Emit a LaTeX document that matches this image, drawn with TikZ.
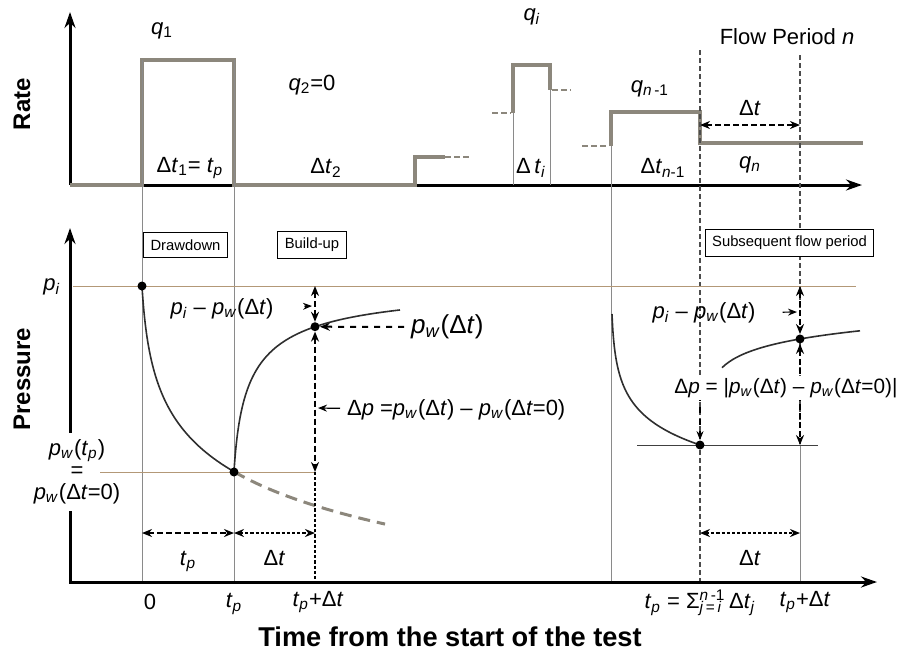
\documentclass[tikz,border=0pt]{standalone}
\usepackage{fontspec}
\setmainfont{Liberation Sans}
\usetikzlibrary{arrows.meta,positioning,calc}
\definecolor{colrate}{HTML}{8C877C}
\definecolor{colguide}{HTML}{8A8A8A}
\definecolor{coltan}{HTML}{B39877}
\definecolor{colcurve}{HTML}{2E2E2E}
\newcommand{\qq}[1]{\textit{q}\textsubscript{#1}}
\newcommand{\pw}{\textit{p}\textsubscript{\textit{w}}}
\newcommand{\pii}{\textit{p}\textsubscript{\textit{i}}}
\newcommand{\tp}{\textit{t}\textsubscript{\textit{p}}}
\newcommand{\dt}{Δ\textit{t}}

\begin{document}
\begin{tikzpicture}[
  x=0.5pt, y=-0.5pt,
  font=\fontsize{11}{13}\selectfont,
  taxis/.style={line width=1.5pt,-{Stealth[length=8pt,width=5.5pt]}},
  ratebar/.style={line width=2pt,colrate},
  ratetail/.style={line width=1.2pt,colrate,dash pattern=on 3pt off 1.5pt},
  guide/.style={line width=0.5pt,colguide},
  cut/.style={line width=0.6pt,black!70,dash pattern=on 2.5pt off 1.5pt},
  flat/.style={line width=0.5pt,coltan},
  curve/.style={line width=0.8pt,colcurve},
  span/.style={line width=1.1pt,dash pattern=on 3pt off 1.5pt,
    {Stealth[length=5pt,width=4pt]}-{Stealth[length=5pt,width=4pt]}},
  dense/.style={span,dash pattern=on 1.6pt off 1pt},
  pointer/.style={-{Stealth[length=4.5pt,width=3.5pt]},line width=0.6pt},
  blob/.style={circle,fill=black,inner sep=0pt,minimum size=4.5pt},
  stage/.style={draw,fill=white,line width=0.4pt,font=\fontsize{7.4}{9}\selectfont,
    inner xsep=3.5pt,minimum height=12.5pt},
  axlab/.style={font=\bfseries\fontsize{12}{14}\selectfont},
]
  \useasboundingbox (0,0) rectangle (899,655);
  % ---------------- rate ----------------
  \coordinate (rO) at (70,185);
  \coordinate (rY) at (70,12);
  \coordinate (rX) at (862,185);
  \draw[taxis] (rO) -- (rY);
  \draw[taxis] (rO) -- (rX);
  \node[axlab,rotate=90] (rlab) at (22,104) {Rate};
  \draw[ratebar] (rO) -- (142,185) -- (142,60) -- (234,60) -- (234,185)
    -- (415,185) -- (415,157) -- (445,157);
  \draw[ratetail] (445,157) -- (470,157);
  \draw[ratetail] (492,113) -- (511,113);
  \draw[ratebar] (513,113) -- (513,65) -- (550,65) -- (550,90);
  \draw[ratetail] (552,90) -- (571,90);
  \draw[guide] (513,113) -- (513,185);
  \draw[guide] (550,90) -- (550,185);
  \draw[ratetail] (582,146) -- (608,146);
  \draw[ratebar] (611,146) -- (611,112) -- (700,112) -- (700,143) -- (863,143);
  \node (q1)   at (162,31)  {\qq{1}};
  \node (q2)   at (312,85)  {\qq{2}=0};
  \node (dt1)  at (190,168) {Δ\textit{t}\textsubscript{1}= \tp};
  \node (dt2)  at (326,168) {Δ\textit{t}\textsubscript{2}};
  \node (qi)   at (532,17)  {\qq{\textit{i}}};
  \node (dti)  at (531,168) {Δ\,\textit{t}\textsubscript{\textit{i}}};
  \node (qn1)  at (650,89)  {\qq{\textit{n}\,-1}};
  \node (dtn1) at (663,168) {Δ\textit{t}\textsubscript{\textit{n}-1}};
  \node (qn)   at (750,165) {\qq{\textit{n}}};
  \node (fp)   at (787,37)  {Flow Period \textit{n}};
  \coordinate (fa) at (700,125);
  \coordinate (fb) at (800,125);
  \draw[span] (fa) -- (fb) node[midway,above=1pt] (dtf) {\dt};
  % ---------------- guides ----------------
  \draw[guide] (142,60) -- (142,582);
  \draw[guide] (234,60) -- (234,582);
  \draw[guide] (611,146) -- (611,582);
  \draw[cut] (700,50) -- (700,582);
  \draw[cut] (800,55) -- (800,445);
  \draw[guide] (800,445) -- (800,582);
  % ---------------- pressure ----------------
  \coordinate (pO) at (70,582);
  \coordinate (pY) at (70,228);
  \coordinate (pX) at (877,582);
  \node[axlab,rotate=90] (plab) at (22,379) {Pressure};
  \node[align=center,font=\fontsize{11}{11}\selectfont] (pwtp) at (77,472)
    {\pw(\tp)\\=\\\pw(\dt=0)};
  \draw[taxis] (pO |- pwtp.south) -- (pO) -- (pX);
  \draw[taxis] (pO |- pwtp.north) -- (pY);
  \node (pil) at (52,287) {\pii};
  \coordinate (piL) at (73,286);
  \coordinate (piR) at (856,286);
  \draw[flat] (piL) -- (piR);
  \coordinate (lvL) at (100,472);
  \coordinate (lvR) at (315,472);
  \draw[flat] (lvL) -- (lvR);
  % drawdown, then build-up
  \draw[curve] plot[domain=0:9.592,samples=70] ({142+\x*\x},{286+55.2*ln(1+\x*\x/3.3)});
  \draw[colrate,line width=1.5pt,dash pattern=on 6pt off 3.5pt]
    plot[domain=9.592:15.59,samples=30] ({142+\x*\x},{286+55.2*ln(1+\x*\x/3.3)});
  \draw[curve] plot[domain=0:12.884,samples=70]
    ({234+\x*\x},{286+55.2*(ln(1+(92+\x*\x)/3.3)-ln(1+\x*\x/3.3))});
  \node[blob] (p0)  at (142,286) {};
  \node[blob] (ptp) at (234,472) {};
  \node[blob] (pdt) at (315,326.7) {};
  \coordinate (pt1) at (315,286);
  \coordinate (pt2) at (315,472);
  \coordinate (pt3) at (315,582);
  \draw[span] (pt1) -- (pdt);
  \draw[span] (pdt) -- (pt2);
  \draw[line width=1.1pt,dash pattern=on 1.6pt off 1pt] (pt2) -- (pt3);
  \node (l1) at (222,309) {\pii{} – \pw(\dt)};
  \coordinate (l1e) at (312,306);
  \draw[pointer,shorten <=12pt] (l1) -- (l1e);
  \node[anchor=west,font=\fontsize{13}{15}\selectfont] (l2) at (404,327) {\pw(\dt)};
  \draw[line width=1pt,dashed,-{Stealth[length=5pt,width=4pt]}] (l2) -- (pdt);
  \node[anchor=west] (l3) at (340,410) {Δ\textit{p} =\pw(\dt) – \pw(\dt=0)};
  \coordinate (l3e) at (318,408);
  \draw[pointer] (l3) -- (l3e);
  \node[stage] (dd) at (185.5,245) {Drawdown};
  \node[stage] (bu) at (312,245)   {Build-up};
  \node[stage] (sf) at (789.5,243) {Subsequent flow period};
  \coordinate (b0) at (142,533);
  \coordinate (b1) at (234,533);
  \coordinate (b2) at (315,533);
  \draw[span]  (b0) -- (b1) node[midway,below=5pt] (btp) {\tp};
  \draw[dense] (b1) -- (b2) node[midway,below=5pt] (bdt) {\dt};
  % ---------------- subsequent period ----------------
  \draw[curve] plot[domain=0:9.381,samples=70] ({612+\x*\x},{314+30.4*ln(1+\x*\x/1.2)});
  \coordinate (lwL) at (637,445);
  \coordinate (lwR) at (818,445);
  \draw[guide,black!75] (lwL) -- (lwR);
  \draw[curve] plot[domain=722:860,samples=40] (\x,{415-16.7*ln(\x-705)});
  \node[blob] (qdn) at (700,445) {};
  \node[blob] (qdt) at (800,338.95) {};
  \coordinate (qt1) at (800,286);
  \coordinate (qt2) at (800,445);
  \draw[span] (qt1) -- (qdt);
  \draw[span] (qdt) -- (qt2);
  \coordinate (qa) at (700,395);
  \draw[pointer,dashed] (qa) -- (qdn);
  \node (l4) at (704,313) {\pii{} – \pw(\dt)};
  \coordinate (l4e) at (797,312);
  \draw[pointer,shorten <=10pt] (l4) -- (l4e);
  \node[fill=white,inner sep=1pt,font=\fontsize{10.4}{12}\selectfont] (l5) at (786,388)
    {Δ\textit{p} = |\pw(\dt) – \pw(\dt=0)|};
  \coordinate (c0) at (700,533);
  \coordinate (c1) at (800,533);
  \draw[dense] (c0) -- (c1) node[midway,below=5pt] (cdt) {\dt};
  % ---------------- time labels ----------------
  \node (x0)    at (150,602) {0};
  \node (xtp)   at (234,604) {\tp};
  \node (xtpd)  at (318,602) {\tp+\dt};
  \node (xsum)  at (700,603) {\tp{} = Σ\rlap{\textsubscript{\textit{j}\,=\,\textit{i}}}\textsuperscript{\textit{n}\,-1}\,Δ\textit{t}\textsubscript{\textit{j}}};
  \node (xtpd2) at (805,602) {\tp+\dt};
  \node[font=\bfseries\fontsize{13.6}{16}\selectfont] (ttl) at (450,637) {Time from the start of the test};
\end{tikzpicture}
\end{document}
